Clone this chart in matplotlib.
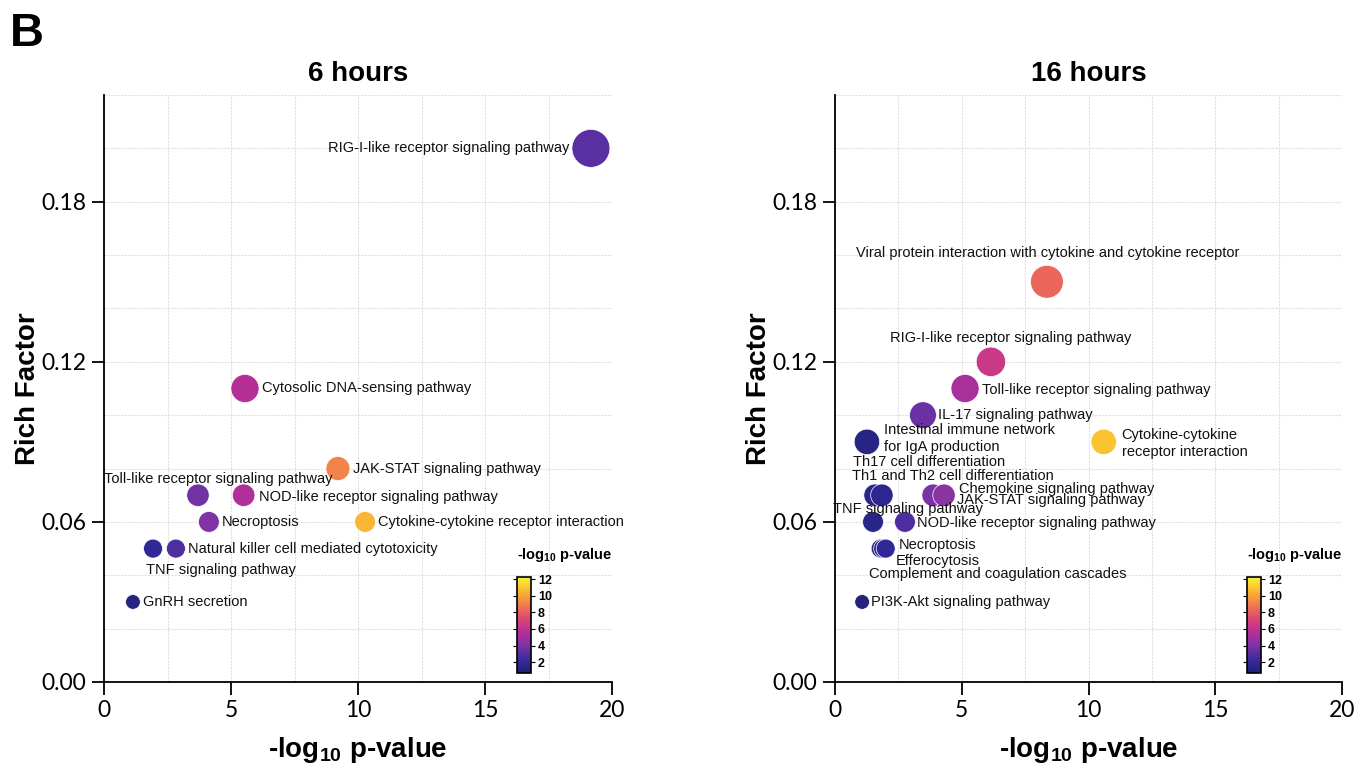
import numpy as np
import matplotlib.pyplot as plt
from matplotlib.colors import LinearSegmentedColormap

plt.rcParams['font.family'] = ['Liberation Sans', 'DejaVu Sans']
plt.rcParams['mathtext.fontset'] = 'custom'
plt.rcParams['mathtext.rm'] = 'Liberation Sans'
plt.rcParams['mathtext.bf'] = 'Liberation Sans:bold'

# 6 hours
names6 = ['RIG-I-like receptor signaling pathway', 'Cytosolic DNA-sensing pathway',
          'JAK-STAT signaling pathway', 'Toll-like receptor signaling pathway',
          'NOD-like receptor signaling pathway', 'Necroptosis',
          'Cytokine-cytokine receptor interaction', 'TNF signaling pathway',
          'Natural killer cell mediated cytotoxicity', 'GnRH secretion']
logp6 = [19.17, 5.55, 9.21, 3.70, 5.50, 4.13, 10.28, 1.93, 2.83, 1.14]
rich6 = [0.20, 0.11, 0.08, 0.07, 0.07, 0.06, 0.06, 0.05, 0.05, 0.03]
color6 = [3.1, 5.6, 9.1, 3.7, 5.4, 4.1, 10.5, 1.9, 2.8, 1.2]

# 16 hours
names16 = ['Viral protein interaction with cytokine and cytokine receptor',
           'RIG-I-like receptor signaling pathway', 'Toll-like receptor signaling pathway',
           'IL-17 signaling pathway', 'Intestinal immune network\nfor IgA production',
           'Cytokine-cytokine\nreceptor interaction', 'Th17 cell differentiation',
           'Th1 and Th2 cell differentiation', 'Chemokine signaling pathway',
           'JAK-STAT signaling pathway', 'TNF signaling pathway',
           'NOD-like receptor signaling pathway', 'Necroptosis', 'Efferocytosis',
           'Complement and coagulation cascades', 'PI3K-Akt signaling pathway']
logp16 = [8.36, 6.15, 5.13, 3.47, 1.26, 10.60, 1.58, 1.85, 3.87, 4.30, 1.50, 2.76,
          1.80, 1.90, 2.00, 1.07]
rich16 = [0.15, 0.12, 0.11, 0.10, 0.09, 0.09, 0.07, 0.07, 0.07, 0.07, 0.06, 0.06,
          0.05, 0.05, 0.05, 0.03]
color16 = [8.3, 6.4, 5.2, 3.5, 1.3, 10.9, 1.6, 1.8, 3.9, 4.4, 1.5, 2.8, 1.8, 1.9, 2.0, 1.1]

# label placement (pixel offsets from the point, alignment)
place6 = [(-22, 0, 'right'), (17, 0, 'left'), (15, 0, 'left'), (20, 16, 'center'),
          (15, -2, 'left'), (13, 0, 'left'), (13, 0, 'left'), (68, -21, 'center'),
          (12, 0, 'left'), (10, 0, 'left')]
place16 = [(1, 29, 'center'), (20, 24, 'center'), (17, -2, 'left'), (15, 0, 'left'),
           (17, 3, 'left'), (18, -2, 'left'), (54, 33, 'center'), (71, 19, 'center'),
           (26, 6, 'left'), (13, -5, 'left'), (35, 13, 'center'), (12, -1, 'left'),
           (18, 4, 'left'), (13, -12, 'left'), (112, -25, 'center'), (9, 0, 'left')]

cmap = LinearSegmentedColormap.from_list('pv', [
    (0.00, '#1d2272'), (0.12, '#33299a'), (0.28, '#7a34a6'), (0.42, '#b52f98'),
    (0.55, '#d9417a'), (0.68, '#ee6e55'), (0.80, '#f7a03c'), (0.92, '#fbd22c'),
    (1.00, '#f8ee40')])

fig = plt.figure(figsize=(13.66, 7.7), dpi=100)
ax1 = fig.add_axes([104 / 1366, 88 / 770, 508 / 1366, 587 / 770])
ax2 = fig.add_axes([835 / 1366, 88 / 770, 507 / 1366, 587 / 770])
cax1 = fig.add_axes([517 / 1366, 97 / 770, 14 / 1366, 96 / 770])
cax2 = fig.add_axes([1247 / 1366, 97 / 770, 14 / 1366, 96 / 770])


def panel(ax, cax, title, names, x, y, cval, place):
    sc = ax.scatter(x, y, s=np.array(y) * 3730, c=cval, cmap=cmap, vmin=0.7, vmax=12.25,
                    edgecolors='white', linewidths=0.5, zorder=3)
    for name, xi, yi, (dx, dy, ha) in zip(names, x, y, place):
        ax.annotate(name, (xi, yi), xytext=(dx, dy), textcoords='offset pixels',
                    ha=ha, va='center', fontsize=10.5, linespacing=1.25, zorder=4,
                    color='#111111', annotation_clip=False)
    ax.set_xlim(0, 20)
    ax.set_ylim(0, 0.22)
    ax.set_xticks([0, 5, 10, 15, 20])
    ax.set_yticks([0, 0.06, 0.12, 0.18])
    ax.set_yticklabels(['0.00', '0.06', '0.12', '0.18'])
    ax.set_xticks(np.arange(0, 20.1, 2.5), minor=True)
    ax.set_yticks(np.arange(0, 0.221, 0.02), minor=True)
    ax.grid(which='both', color='#e0e0e0', lw=0.8, ls=(0, (2, 1)), zorder=0)
    ax.tick_params(which='minor', length=0)
    ax.tick_params(which='major', length=9, width=1.3, labelsize=16.5, pad=4)
    for lbl in ax.get_xticklabels() + ax.get_yticklabels():
        lbl.set_family('Lato')
    for side in ['top', 'right']:
        ax.spines[side].set_visible(False)
    for side in ['left', 'bottom']:
        ax.spines[side].set_linewidth(1.3)
    ax.set_title(title, fontsize=20, fontweight='bold', pad=10)
    ax.set_xlabel(r'-log$_{\mathbf{10}}$ p-value', fontsize=20, fontweight='bold')
    ax.set_ylabel('Rich Factor', fontsize=20, fontweight='bold')
    ax.xaxis.set_label_coords(0.5, -0.116)
    ax.yaxis.set_label_coords(-0.15, 0.5)
    ax.xaxis.label.set_va('center')
    ax.yaxis.label.set_va('center')

    cb = fig.colorbar(sc, cax=cax)
    cb.set_ticks([2, 4, 6, 8, 10, 12])
    cb.outline.set_linewidth(1.2)
    cax.tick_params(labelsize=9, length=3, width=0.8, left=True, right=True, pad=2)
    for lbl in cax.get_yticklabels():
        lbl.set_fontweight('bold')
    cax.text(0, 1.23, r'-log$_{\mathbf{10}}$ p-value', transform=cax.transAxes,
             ha='left', va='center', fontsize=10.5, fontweight='bold')


panel(ax1, cax1, '6 hours', names6, logp6, rich6, color6, place6)
panel(ax2, cax2, '16 hours', names16, logp16, rich16, color16, place16)

fig.text(0.007, 0.985, 'B', fontsize=34, fontweight='bold', va='top', ha='left')

fig.savefig('out.png', dpi=100)
